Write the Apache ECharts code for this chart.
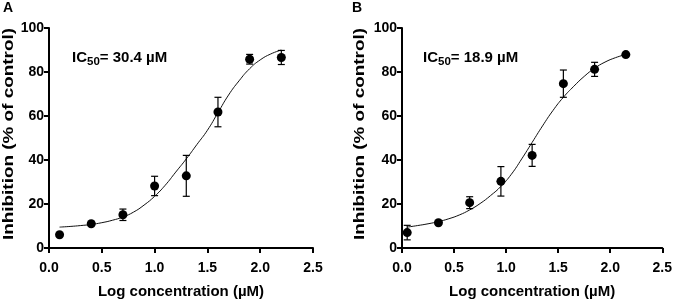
<!DOCTYPE html>
<html>
<head>
<meta charset="utf-8">
<script src="https://cdn.jsdelivr.net/npm/echarts@6/dist/echarts.min.js"></script>
<style>
  html, body { margin: 0; padding: 0; background: #fff; }
  #chart { width: 675px; height: 308px; }
</style>
</head>
<body>
<div id="chart"></div>
<script>
// panel A – measured points
const xA = [0.1, 0.4, 0.7, 1.0, 1.3, 1.6, 1.9, 2.2];
const yA = [6, 11, 15.1, 28.2, 32.8, 61.8, 85.8, 86.6];
const errA = [0, 0, 2.6, 4.4, 9.3, 6.7, 2.2, 3.2];
// panel A – fitted curve
const curveXA = [0.1, 0.2, 0.3, 0.4, 0.5, 0.6, 0.7, 0.8, 0.9, 1.0, 1.1, 1.2, 1.3, 1.4, 1.5, 1.6, 1.7, 1.8, 1.9, 2.0, 2.1, 2.2];
const curveYA = [9.5, 9.8, 10.2, 10.7, 11.5, 12.6, 14.1, 16.3, 19.5, 23.5, 28.5, 34.5, 40.5, 47, 53.5, 61.5, 69.5, 76, 81.5, 85.5, 88.2, 90];

// panel B – measured points
const xB = [0.05, 0.35, 0.65, 0.95, 1.25, 1.55, 1.85, 2.15];
const yB = [7, 11.5, 20.6, 30.3, 42.1, 74.7, 81.2, 87.9];
const errB = [3.3, 0, 2.7, 6.7, 5, 6.2, 3.2, 0];
// panel B – fitted curve
const curveXB = [0.05, 0.15, 0.25, 0.35, 0.45, 0.55, 0.65, 0.75, 0.85, 0.95, 1.05, 1.15, 1.25, 1.35, 1.45, 1.55, 1.65, 1.75, 1.85, 1.95, 2.05, 2.15];
const curveYB = [9.5, 10.2, 11, 12, 13.3, 15, 17.3, 20.2, 23.8, 28, 33.5, 40.5, 48, 55.5, 62.5, 68.5, 73.5, 78, 81.7, 84.5, 86.5, 88];

const panelLabels = ['A', 'B'];
const ic50Texts = ['30.4 µM', '18.9 µM'];
const xTitle = 'Log concentration (µM)';
const yTitle = 'Inhibition (% of control)';

const FONT = "'Liberation Sans', Arial, sans-serif";

function makeXAxis(idx) {
    return {
        gridIndex: idx,
        type: 'value',
        min: 0,
        max: 2.5,
        interval: 0.5,
        splitLine: { show: false },
        axisLine: { lineStyle: { color: '#000', width: 2 } },
        axisTick: { length: 5, lineStyle: { color: '#000', width: 2 } },
        axisLabel: {
            color: '#000', fontSize: 14, fontWeight: 'bold', fontFamily: FONT, margin: 13,
            formatter: v => v.toFixed(1)
        },
        name: xTitle,
        nameLocation: 'middle',
        nameGap: 36,
        nameTextStyle: { color: '#000', fontSize: 15, fontWeight: 'bold', fontFamily: FONT }
    };
}

function makeYAxis(idx) {
    return {
        gridIndex: idx,
        type: 'value',
        min: 0,
        max: 100,
        interval: 20,
        splitLine: { show: false },
        axisLine: { show: true, lineStyle: { color: '#000', width: 2 } },
        axisTick: { show: true, length: 5, lineStyle: { color: '#000', width: 2 } },
        axisLabel: { color: '#000', fontSize: 14, fontWeight: 'bold', fontFamily: FONT, margin: 5 }
    };
}

function errorBars(xs, ys, errs, idx) {
    return {
        type: 'custom',
        xAxisIndex: idx,
        yAxisIndex: idx,
        z: 2,
        silent: true,
        data: xs.map((x, i) => [x, ys[i] - errs[i], ys[i] + errs[i]]),
        renderItem: function (params, api) {
            const lo = api.coord([api.value(0), api.value(1)]);
            const hi = api.coord([api.value(0), api.value(2)]);
            if (lo[1] - hi[1] < 0.5) return null;
            const w = 3.5;
            const st = { stroke: '#000', lineWidth: 1.2 };
            return {
                type: 'group',
                children: [
                    { type: 'line', shape: { x1: lo[0], y1: lo[1], x2: hi[0], y2: hi[1] }, style: st },
                    { type: 'line', shape: { x1: lo[0] - w, y1: lo[1], x2: lo[0] + w, y2: lo[1] }, style: st },
                    { type: 'line', shape: { x1: hi[0] - w, y1: hi[1], x2: hi[0] + w, y2: hi[1] }, style: st }
                ]
            };
        }
    };
}

function curve(cx, cy, idx) {
    return {
        type: 'line',
        xAxisIndex: idx,
        yAxisIndex: idx,
        smooth: true,
        symbol: 'none',
        z: 1,
        lineStyle: { color: '#111', width: 1 },
        data: cx.map((x, i) => [x, cy[i]])
    };
}

function points(xs, ys, idx) {
    return {
        type: 'scatter',
        xAxisIndex: idx,
        yAxisIndex: idx,
        symbol: 'circle',
        symbolSize: 9,
        z: 3,
        itemStyle: { color: '#000', opacity: 1 },
        data: xs.map((x, i) => [x, ys[i]])
    };
}

function ic50Label(x, y, value) {
    return {
        type: 'text',
        x: x, y: y,
        style: {
            text: '{m|IC}{s|50}{m|= ' + value + '}',
            align: 'left',
            verticalAlign: 'middle',
            rich: {
                m: { fontSize: 15, fontWeight: 'bold', fontFamily: FONT, fill: '#000', color: '#000' },
                s: { fontSize: 11.5, fontWeight: 'bold', fontFamily: FONT, fill: '#000', color: '#000', padding: [8, 0, 0, 0] }
            }
        }
    };
}

function yTitleText(x, y) {
    return {
        type: 'text',
        x: x, y: y,
        rotation: Math.PI / 2,
        scaleX: 1.35,
        style: {
            text: yTitle,
            align: 'center',
            verticalAlign: 'middle',
            fontSize: 14,
            fontWeight: 'bold',
            fontFamily: FONT,
            fill: '#000'
        }
    };
}

function letter(x, y, t) {
    return {
        type: 'text',
        x: x, y: y,
        style: { text: t, fontSize: 14, fontWeight: 'bold', fontFamily: FONT, fill: '#000' }
    };
}

const option = {
    backgroundColor: '#fff',
    animation: false,
    grid: [
        { left: 49, top: 28, width: 264, height: 220 },
        { left: 402, top: 28, width: 263, height: 220 }
    ],
    xAxis: [makeXAxis(0), makeXAxis(1)],
    yAxis: [makeYAxis(0), makeYAxis(1)],
    graphic: [
        letter(3, 1, panelLabels[0]),
        letter(352, 1, panelLabels[1]),
        yTitleText(9, 134),
        yTitleText(360, 134),
        ic50Label(72, 58, ic50Texts[0]),
        ic50Label(423, 58, ic50Texts[1])
    ],
    series: [
        curve(curveXA, curveYA, 0),
        errorBars(xA, yA, errA, 0),
        points(xA, yA, 0),
        curve(curveXB, curveYB, 1),
        errorBars(xB, yB, errB, 1),
        points(xB, yB, 1)
    ]
};

const myChart = echarts.init(document.getElementById('chart'));
myChart.setOption(option);
</script>
</body>
</html>
